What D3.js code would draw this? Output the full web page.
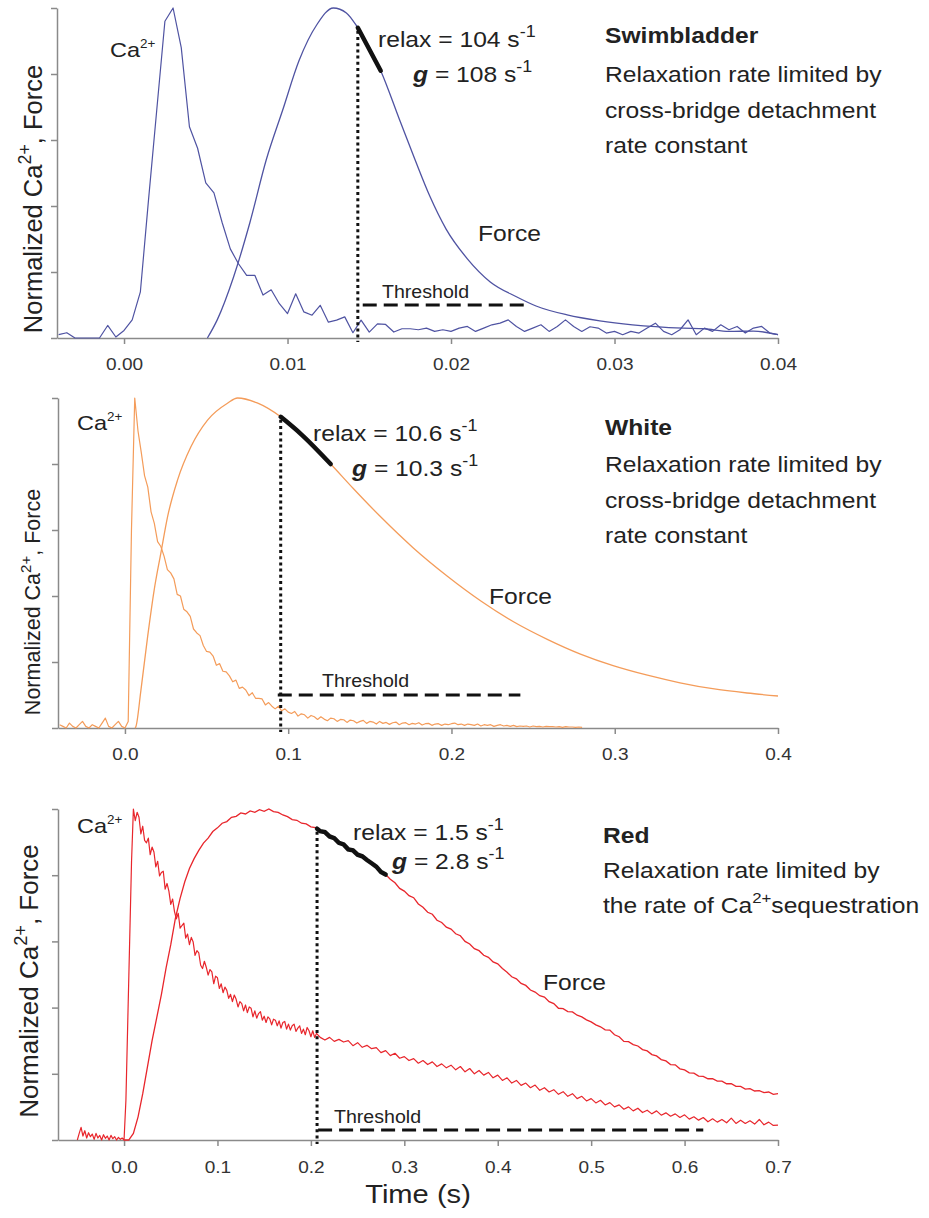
<!DOCTYPE html>
<html>
<head>
<meta charset="utf-8">
<script src="https://cdn.jsdelivr.net/npm/d3@7"></script>
<style>
  body { margin: 0; background: #fff; }
  svg { display: block; }
  text { font-family: "Liberation Sans", Arial, Helvetica, sans-serif; white-space: pre; }
</style>
</head>
<body>
<div id="chart"></div>
<script>
// ---- data (normalized Ca2+ and force, time in s) ----

// swimbladder: Ca sampled every 0.5 ms from -4 ms
const swimCaStart = -0.004, swimCaStep = 0.0005;
const swimCa = [
  0.01, 0.016, 0.0, 0.0, 0.0, 0.0, 0.038, 0.003, 0.023, 0.055,
  0.14, 0.42, 0.69, 0.96, 1.0, 0.88, 0.64, 0.575, 0.47, 0.44,
  0.35, 0.27, 0.225, 0.19, 0.19, 0.13, 0.146, 0.104, 0.074, 0.134,
  0.079, 0.069, 0.099, 0.048, 0.054, 0.064, 0.016, 0.054, 0.018, 0.043,
  0.041, 0.018, 0.028, 0.028,
  0.025, 0.03, 0.02, 0.025, 0.02, 0.03, 0.035, 0.02, 0.03, 0.04,
  0.045, 0.055, 0.035, 0.02, 0.03, 0.04, 0.02, 0.035, 0.055, 0.035,
  0.02, 0.034, 0.03, 0.015, 0.02, 0.01, 0.02, 0.015, 0.03, 0.045,
  0.02, 0.01, 0.025, 0.055, 0.01, 0.03, 0.02, 0.04, 0.025, 0.035,
  0.015, 0.03, 0.035, 0.015, 0.01
];
const swimForce = [
  [0.0051, 0], [0.0057, 0.055], [0.0067, 0.185], [0.0077, 0.35], [0.0087, 0.54],
  [0.0097, 0.69], [0.0107, 0.84], [0.0118, 0.95], [0.0128, 1.0], [0.0136, 0.985],
  [0.0143, 0.94], [0.0157, 0.81], [0.0169, 0.655], [0.0178, 0.54], [0.0187, 0.43],
  [0.0197, 0.33], [0.021, 0.24], [0.0224, 0.17], [0.024, 0.125], [0.0252, 0.097],
  [0.0271, 0.07], [0.0291, 0.052], [0.0311, 0.04], [0.0342, 0.03], [0.0355, 0.028],
  [0.037, 0.02], [0.0385, 0.021], [0.04, 0.01]
];
const swimFit = [0.0143, 0.0157];
const swimThreshold = [0.0146, 0.0247, 0.1];
const swimRates = ['104', '108'];

// white: Ca sampled every 2 ms from -40 ms
const whiteCaStart = -0.04, whiteCaStep = 0.002;
const whiteCa = [
  0.01, 0.005, 0.0, 0.015, 0.005, 0.0, 0.01, 0.02, 0.005, 0.0,
  0.01, 0.005, 0.0, 0.015, 0.03, 0.005, 0.0, 0.01, 0.02, 0.005,
  0.0, 0.02, 0.6, 1.0,
  0.9, 0.835, 0.765, 0.73, 0.655, 0.62, 0.565, 0.55, 0.52, 0.48,
  0.47, 0.452, 0.405, 0.4, 0.36, 0.352, 0.338, 0.3, 0.288, 0.28,
  0.25, 0.232, 0.23, 0.218, 0.19, 0.195, 0.172, 0.17, 0.158, 0.14,
  0.145, 0.12, 0.124, 0.115, 0.098, 0.107, 0.09, 0.09, 0.088, 0.07,
  0.077, 0.066, 0.058, 0.066, 0.052, 0.058, 0.048, 0.044, 0.05, 0.036,
  0.043, 0.04, 0.03, 0.038, 0.034, 0.026, 0.034, 0.027, 0.022, 0.03,
  0.028, 0.02, 0.026, 0.025, 0.017, 0.024, 0.022, 0.015, 0.02, 0.023,
  0.014, 0.02, 0.018, 0.012, 0.02, 0.014, 0.017, 0.011, 0.016, 0.018,
  0.01, 0.015, 0.016, 0.01, 0.014, 0.012, 0.016, 0.009, 0.013, 0.014,
  0.008, 0.012, 0.013, 0.008, 0.012, 0.01, 0.013,
  0.015, 0.01, 0.012, 0.008, 0.012, 0.01, 0.008, 0.012, 0.006,
  0.01, 0.008, 0.01, 0.005, 0.008, 0.01, 0.006, 0.008, 0.005, 0.008,
  0.004, 0.006, 0.005, 0.006, 0.003, 0.006, 0.004, 0.005, 0.003, 0.005,
  0.004, 0.004, 0.003, 0.004, 0.002, 0.004, 0.003, 0.003, 0.002, 0.003,
  0.002
];
const whiteForce = [
  [0.0062, 0], [0.0067, 0.004], [0.0098, 0.115], [0.0139, 0.277], [0.0179, 0.418],
  [0.022, 0.53], [0.0261, 0.64], [0.0322, 0.751], [0.0404, 0.852], [0.0506, 0.933],
  [0.0628, 0.984], [0.069, 1.0], [0.081, 0.985], [0.0954, 0.943], [0.108, 0.89],
  [0.126, 0.80], [0.14, 0.725], [0.1566, 0.64], [0.1768, 0.545], [0.1975, 0.46],
  [0.218, 0.385], [0.238, 0.322], [0.259, 0.268], [0.279, 0.224], [0.299, 0.189],
  [0.32, 0.16], [0.34, 0.137], [0.36, 0.119], [0.381, 0.106], [0.4, 0.097]
];
const whiteFit = [0.0954, 0.126];
const whiteThreshold = [0.0936, 0.2422, 0.1];
const whiteRates = ['10.6', '10.3'];

// red: Ca every 2 ms up to the mark, then every 5 ms
const redCaStartA = -0.05, redCaStepA = 0.002;
const redCaA = [
  0.0, 0.02, 0.038, 0.012, 0.028, 0.006, 0.022, 0.01, 0.018, 0.002,
  0.02, 0.006, 0.014, 0.0, 0.016, 0.005, 0.012, 0.0, 0.014, 0.004,
  0.01, 0.0, 0.008, 0.002, 0.006, 0.0, 0.12, 0.36, 0.6, 0.84,
  1.0,
  0.965, 0.99, 0.975, 0.925, 0.948, 0.905, 0.898, 0.912, 0.862, 0.885,
  0.87, 0.825, 0.842, 0.798, 0.808, 0.812, 0.758, 0.775, 0.752, 0.712,
  0.728, 0.69, 0.668, 0.685, 0.64, 0.648, 0.655, 0.61, 0.622, 0.59,
  0.612, 0.598, 0.558, 0.572, 0.565, 0.528, 0.518, 0.54, 0.522, 0.498,
  0.515, 0.508, 0.472, 0.495, 0.49, 0.458, 0.472, 0.445, 0.462, 0.452,
  0.428, 0.44, 0.418, 0.438, 0.425, 0.402, 0.418, 0.412, 0.39, 0.408,
  0.385, 0.402, 0.398, 0.372, 0.39, 0.368, 0.382, 0.388, 0.362, 0.374,
  0.355, 0.372, 0.366, 0.348, 0.365, 0.362, 0.345, 0.36, 0.338, 0.355,
  0.358, 0.335, 0.35, 0.332, 0.345, 0.35, 0.328, 0.338, 0.345, 0.322,
  0.335, 0.318, 0.34, 0.33, 0.312, 0.33, 0.31, 0.322
];
const redCaStartB = 0.21, redCaStepB = 0.005;
const redCaB = [
  0.31, 0.302, 0.31, 0.298, 0.304, 0.296, 0.3, 0.285, 0.294, 0.28,
  0.286, 0.276, 0.279, 0.264, 0.27, 0.255, 0.262, 0.247, 0.252, 0.24,
  0.246, 0.232, 0.24, 0.228, 0.236, 0.222, 0.23, 0.218, 0.226, 0.212,
  0.222, 0.206, 0.216, 0.2, 0.21, 0.196, 0.204, 0.188, 0.196, 0.18,
  0.188, 0.172, 0.18, 0.165, 0.172, 0.158, 0.166, 0.15, 0.158, 0.145,
  0.152, 0.138, 0.146, 0.132, 0.14, 0.125, 0.132, 0.118, 0.125, 0.112,
  0.12, 0.106, 0.113, 0.1, 0.106, 0.093, 0.1, 0.088, 0.096, 0.083,
  0.09, 0.079, 0.088, 0.075, 0.082, 0.072, 0.079, 0.068, 0.076, 0.063,
  0.07, 0.06, 0.068, 0.055, 0.064, 0.054, 0.062, 0.052, 0.066, 0.05,
  0.06, 0.05, 0.058, 0.048, 0.062, 0.046, 0.054, 0.044, 0.045
];
const redForceStart = 0.0, redForceStep = 0.005;
const redForce = [
  0, 0, 0.02, 0.07, 0.14, 0.22, 0.30, 0.37, 0.44, 0.52,
  0.59, 0.67, 0.73, 0.78, 0.82, 0.85, 0.875, 0.897, 0.912, 0.932,
  0.943, 0.957, 0.962, 0.975, 0.978, 0.988, 0.985, 0.994, 0.99, 0.998,
  0.993, 1.0, 0.992, 0.99, 0.982, 0.977, 0.968, 0.966, 0.957, 0.955,
  0.946, 0.944, 0.933, 0.93, 0.917, 0.912, 0.898, 0.893, 0.878, 0.875,
  0.862, 0.857, 0.846, 0.836, 0.826, 0.81, 0.802, 0.788, 0.777, 0.76,
  0.752, 0.738, 0.732, 0.713, 0.703, 0.688, 0.682, 0.664, 0.657, 0.643,
  0.637, 0.623, 0.617, 0.6, 0.592, 0.578, 0.572, 0.558, 0.552, 0.538,
  0.532, 0.518, 0.507, 0.493, 0.487, 0.473, 0.467, 0.453, 0.447, 0.436,
  0.432, 0.418, 0.412, 0.398, 0.397, 0.388, 0.387, 0.377, 0.372, 0.363,
  0.357, 0.348, 0.342, 0.333, 0.332, 0.318, 0.312, 0.298, 0.297, 0.288,
  0.284, 0.273, 0.269, 0.258, 0.254, 0.243, 0.239, 0.228, 0.227, 0.215,
  0.212, 0.203, 0.202, 0.193, 0.192, 0.185, 0.185, 0.178, 0.178, 0.17,
  0.17, 0.162, 0.162, 0.154, 0.155, 0.148, 0.149, 0.143, 0.145, 0.138,
  0.14
];
const redFit = [0.2066, 0.28];
const redThreshold = [0.2077, 0.62, 0.03];
const redRates = ['1.5', '2.8'];

const yTicks = [0, 0.2, 0.4, 0.6, 0.8, 1.0];
const swimTicks = [0, 0.01, 0.02, 0.03, 0.04];
const whiteTicks = [0, 0.1, 0.2, 0.3, 0.4];
const redTicks = [0, 0.1, 0.2, 0.3, 0.4, 0.5, 0.6, 0.7];

const notesCrossBridge = ['Relaxation rate limited by', 'cross-bridge detachment', 'rate constant'];

// ---- drawing ----
const W = 929, H = 1218;
const SX = 1.12;          // source figure is a little wider than tall
const INK = '#222';
const AXIS = '#8a8a8a';

function sampled(values, t0, dt) {
  return values.map((v, i) => [t0 + i * dt, v]);
}

function valueAt(series, t) {
  const i = d3.bisector(d => d[0]).left(series, t);
  if (i <= 0) return series[0][1];
  if (i >= series.length) return series[series.length - 1][1];
  const a = series[i - 1], b = series[i];
  return a[1] + (b[1] - a[1]) * (t - a[0]) / (b[0] - a[0]);
}

const svg = d3.select('#chart').append('svg')
  .attr('width', W)
  .attr('height', H);

// text with optional superscripts; parts are strings or {t, up, size, bold, italic}
function addText(x, y, size, parts, opts) {
  opts = opts || {};
  if (!Array.isArray(parts)) parts = [parts];
  const t = svg.append('text')
    .attr('transform', `translate(${x},${y}) scale(${SX},1)`)
    .attr('font-size', size)
    .attr('fill', INK)
    .attr('text-anchor', opts.anchor || 'start')
    .attr('font-weight', opts.bold ? 'bold' : 'normal');
  let shift = 0;
  parts.forEach(part => {
    const q = typeof part === 'string' ? { t: part } : part;
    const up = q.up || 0;
    const s = t.append('tspan').text(q.t);
    if (up !== shift) s.attr('dy', shift - up);
    shift = up;
    if (q.size) s.attr('font-size', q.size);
    if (q.bold) s.attr('font-weight', 'bold');
    if (q.italic) s.attr('font-style', 'italic');
  });
  return t;
}

function drawPanel(p) {
  const x = d3.scaleLinear().domain(p.xDomain).range([p.left, p.right]);
  const y = d3.scaleLinear().domain([0, 1]).range([p.bottom, p.top]);
  const g = svg.append('g');

  const yAxis = g.append('g')
    .attr('transform', `translate(${p.left},0)`)
    .call(d3.axisLeft(y).tickValues(yTicks).tickFormat('').tickSize(6).tickSizeOuter(0));
  const xAxis = g.append('g')
    .attr('transform', `translate(0,${p.bottom})`)
    .call(d3.axisBottom(x).tickValues(p.xTicks).tickFormat(d3.format(p.fmt))
      .tickSize(6).tickSizeOuter(0).tickPadding(p.pad));

  [yAxis, xAxis].forEach(a => {
    a.select('.domain').attr('stroke', AXIS).attr('stroke-width', 1.5);
    a.selectAll('.tick line').attr('stroke', AXIS).attr('stroke-width', 1.5);
  });
  xAxis.selectAll('.tick text')
    .attr('font-size', 17)
    .attr('fill', '#333')
    .attr('transform', `scale(${SX},1)`);

  const line = d3.line().x(d => x(d[0])).y(d => y(d[1]));
  const smooth = d3.line().x(d => x(d[0])).y(d => y(d[1]))
    .curve(p.smooth ? d3.curveMonotoneX : d3.curveLinear);

  g.append('path').datum(p.ca)
    .attr('d', line)
    .attr('fill', 'none')
    .attr('stroke', p.color)
    .attr('stroke-width', 1.2)
    .attr('stroke-linejoin', 'round');

  g.append('path').datum(p.force)
    .attr('d', smooth)
    .attr('fill', 'none')
    .attr('stroke', p.color)
    .attr('stroke-width', 1.3);

  // fitted part of the relaxation
  const fit = p.force.filter(d => d[0] >= p.fit[0] - 1e-6 && d[0] <= p.fit[1] + 1e-6);
  if (fit[0][0] > p.fit[0]) fit.unshift([p.fit[0], valueAt(p.force, p.fit[0])]);
  g.append('path').datum(fit)
    .attr('d', smooth)
    .attr('fill', 'none')
    .attr('stroke', '#111')
    .attr('stroke-width', 4.5)
    .attr('stroke-linecap', 'round');

  // dotted marker from the fit start down to the axis
  g.append('line')
    .attr('x1', x(p.fit[0])).attr('x2', x(p.fit[0]))
    .attr('y1', y(valueAt(p.force, p.fit[0])) + 3)
    .attr('y2', p.bottom + 4)
    .attr('stroke', '#111')
    .attr('stroke-width', 3)
    .attr('stroke-dasharray', '3,3.2');

  // threshold
  g.append('line')
    .attr('x1', x(p.threshold[0])).attr('x2', x(p.threshold[1]))
    .attr('y1', y(p.threshold[2])).attr('y2', y(p.threshold[2]))
    .attr('stroke', '#111')
    .attr('stroke-width', 3)
    .attr('stroke-dasharray', '14,7');

  addText(p.thrLab[0], p.thrLab[1], 17.5, ['Threshold']);
  addText(p.caLab[0], p.caLab[1], 21, ['Ca', { t: '2+', up: 9, size: 12 }]);
  addText(p.forceLab[0], p.forceLab[1], 22, ['Force']);
  addText(p.relax[0], p.relax[1], 22, ['relax = ' + p.rates[0] + ' s', { t: '-1', up: 10, size: 16 }]);
  addText(p.gRate[0], p.gRate[1], 22, [{ t: 'g', bold: true, italic: true }, ' = ' + p.rates[1] + ' s', { t: '-1', up: 10, size: 16 }]);

  addText(p.title[0], p.title[1], 22, [p.name], { bold: true });
  p.notes.forEach((n, i) => addText(p.title[0], p.notesY[i], 22, n));

  // y label
  const s = p.ylab[2];
  const yl = svg.append('text')
    .attr('transform', `translate(${p.ylab[0]},${p.ylab[1]}) rotate(-90)`)
    .attr('text-anchor', 'middle')
    .attr('font-size', s)
    .attr('fill', INK);
  yl.append('tspan').text('Normalized Ca');
  yl.append('tspan').attr('font-size', s * 0.7).attr('dy', -s * 0.42).text('2+');
  yl.append('tspan').attr('dy', s * 0.42).text(', Force');
}

drawPanel({
  name: 'Swimbladder',
  left: 57, right: 778, top: 8, bottom: 338,
  xDomain: [-0.0041, 0.04], xTicks: swimTicks, fmt: '.2f', pad: 14,
  color: '#4f53a2', smooth: true,
  ca: sampled(swimCa, swimCaStart, swimCaStep),
  force: swimForce, fit: swimFit, threshold: swimThreshold, rates: swimRates,
  caLab: [110, 57], forceLab: [478, 241], thrLab: [382, 298],
  relax: [378, 47], gRate: [413, 82],
  title: [605, 43], notes: notesCrossBridge, notesY: [82, 117.5, 153],
  ylab: [42, 199, 25.5]
});

drawPanel({
  name: 'White',
  left: 58, right: 778, top: 398, bottom: 728,
  xDomain: [-0.041, 0.4], xTicks: whiteTicks, fmt: '.1f', pad: 14,
  color: '#f49c5a', smooth: true,
  ca: sampled(whiteCa, whiteCaStart, whiteCaStep),
  force: whiteForce, fit: whiteFit, threshold: whiteThreshold, rates: whiteRates,
  caLab: [77, 430], forceLab: [489, 604], thrLab: [322, 687],
  relax: [313, 441], gRate: [352, 476],
  title: [605, 435], notes: notesCrossBridge, notesY: [472, 508, 543],
  ylab: [40, 602, 21.5]
});

drawPanel({
  name: 'Red',
  left: 58, right: 778, top: 809, bottom: 1140,
  xDomain: [-0.0707, 0.7], xTicks: redTicks, fmt: '.1f', pad: 15,
  color: '#e8262c', smooth: false,
  ca: sampled(redCaA, redCaStartA, redCaStepA).concat(sampled(redCaB, redCaStartB, redCaStepB)),
  force: sampled(redForce, redForceStart, redForceStep),
  fit: redFit, threshold: redThreshold, rates: redRates,
  caLab: [77, 833], forceLab: [543, 990], thrLab: [334, 1123],
  relax: [353, 840], gRate: [392, 869],
  title: [603, 843],
  notes: ['Relaxation rate limited by', ['the rate of Ca', { t: '2+', up: 10, size: 15 }, 'sequestration']],
  notesY: [878, 913],
  ylab: [38, 981, 26]
});

addText(418, 1203, 26, ['Time (s)'], { anchor: 'middle' });
</script>
</body>
</html>
